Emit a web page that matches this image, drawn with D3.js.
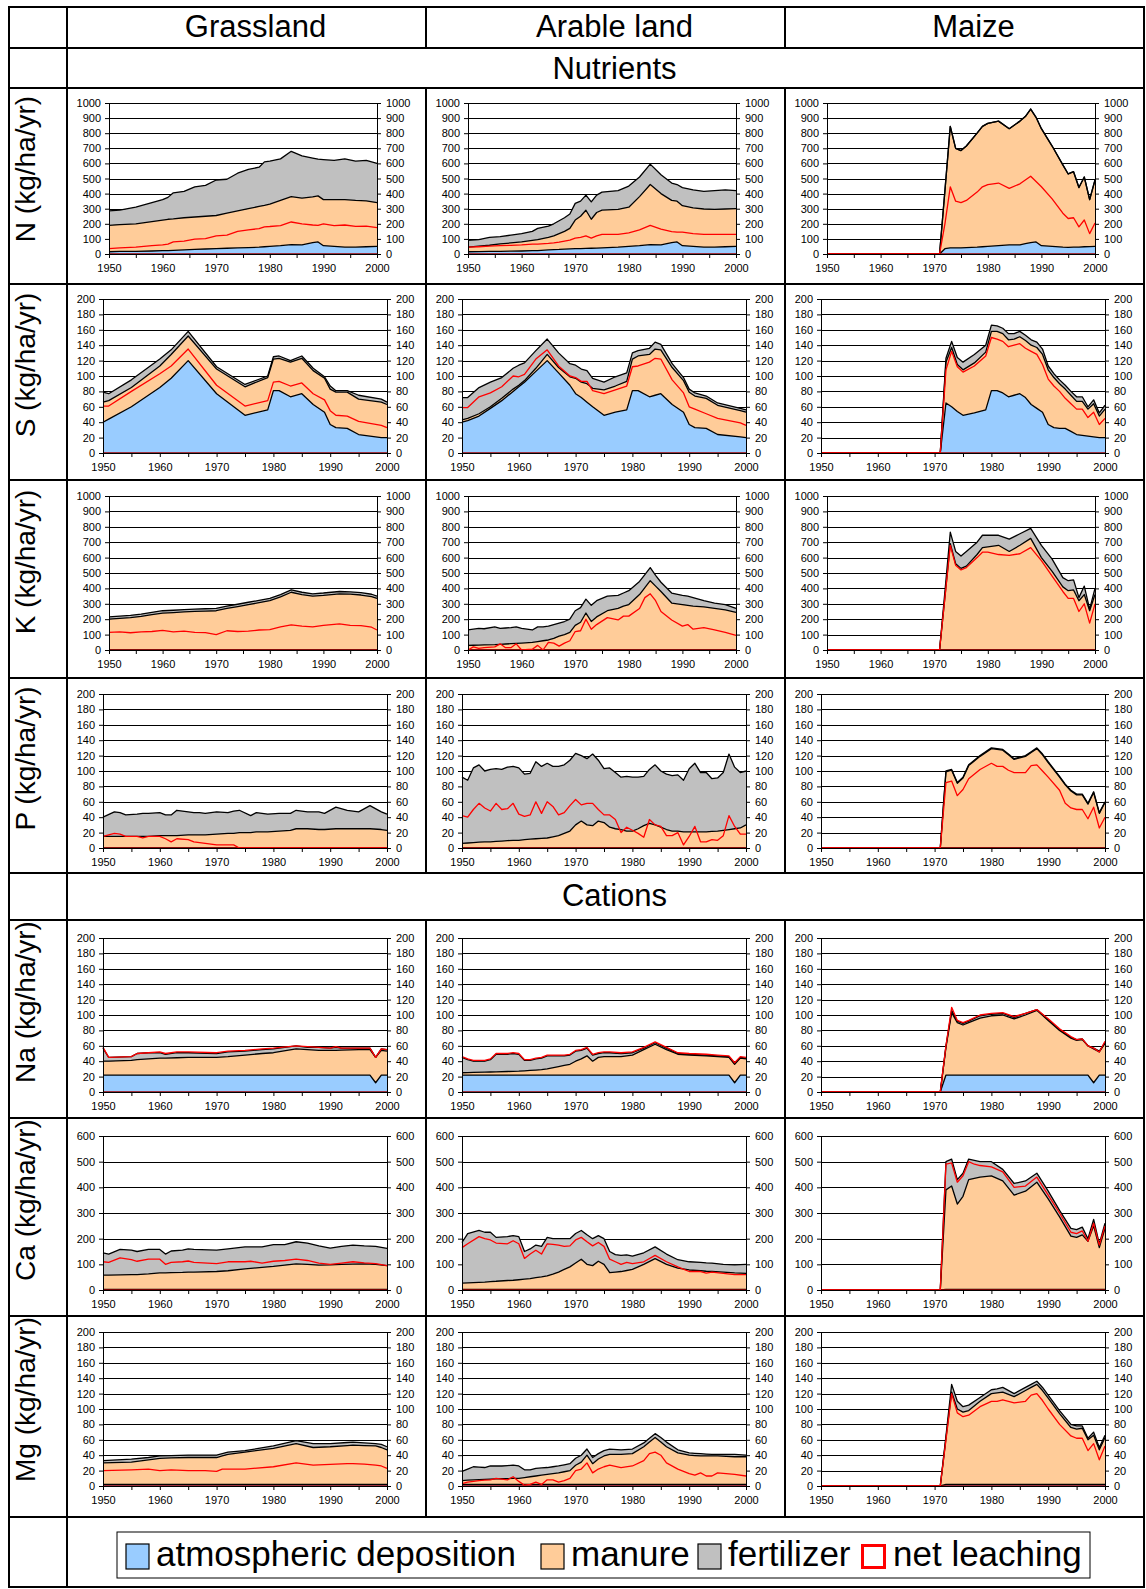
<!DOCTYPE html>
<html>
<head>
<meta charset="utf-8">
<script src="https://cdn.jsdelivr.net/npm/d3@7"></script>
<style>
  body { margin: 0; background: #fff; }
  text { font-family: "Liberation Sans", Arial, sans-serif; }
</style>
</head>
<body>
<div id="container"></div>
<script>
let w = 1146;
let h = 1589;

// DATA - one table per panel, rows are [year, atm top, manure top, fertilizer top, net leaching]
// (the three tops are stacked values)
const nGrass = [
  [1950,15,190,285,35],[1952,17,195,290,40],[1955,18,200,310,45],[1958,20,215,340,55],
  [1960,22,225,360,60],[1961,23,230,375,65],[1962,24,232,405,80],[1964,27,240,415,85],
  [1966,30,245,445,98],[1968,33,250,455,102],[1970,36,255,490,120],[1972,38,270,495,125],
  [1974,40,285,535,150],[1976,42,300,560,160],[1978,45,315,575,168],[1979,48,322,610,180],
  [1980,50,330,615,182],[1982,55,355,630,188],[1984,62,380,680,212],[1986,60,370,650,200],
  [1988,75,378,635,192],[1989,80,385,628,190],[1990,55,360,625,200],[1992,50,360,620,188],
  [1994,45,360,630,192],[1996,45,355,615,183],[1998,48,352,620,185],[2000,50,340,600,175]
];
const nArable = [
  [1950,15,45,90,45],[1952,16,52,95,48],[1954,17,58,110,52],[1956,18,67,115,55],
  [1958,19,73,125,57],[1960,20,80,135,60],[1962,22,90,150,65],[1963,23,95,170,66],
  [1965,27,110,185,70],[1966,29,120,200,73],[1967,30,135,220,78],[1968,32,150,240,85],
  [1969,34,170,265,92],[1970,35,225,335,105],[1971,36,250,350,110],[1972,37,290,390,120],
  [1973,38,230,345,105],[1974,39,275,390,120],[1975,40,290,410,130],[1978,45,295,420,130],
  [1980,50,310,450,140],[1982,55,380,510,160],[1984,62,460,595,190],[1986,60,400,525,165],
  [1988,75,355,470,148],[1989,80,350,460,145],[1990,55,320,440,145],[1992,50,305,425,135],
  [1994,45,298,415,130],[1996,45,295,420,130],[1998,48,298,425,130],[2000,50,300,420,130]
];
const nMaize = [
  [1950,0,0,0,0],[1971,0,0,0,0],[1972,35,420,420,200],[1973,40,845,845,445],
  [1974,40,700,700,350],[1975,40,685,685,340],[1976,42,715,715,355],[1978,45,800,800,410],
  [1979,48,845,845,445],[1980,50,865,865,460],[1982,55,880,880,470],[1984,60,830,830,435],
  [1986,60,880,880,465],[1987,68,910,910,490],[1988,75,960,960,515],[1989,80,905,905,480],
  [1990,55,830,830,445],[1992,50,715,715,365],[1994,45,590,590,270],[1995,44,530,530,235],
  [1996,45,545,545,240],[1997,46,440,440,180],[1998,48,510,510,225],[1999,49,360,360,135],
  [2000,50,490,490,205]
];
const sGrass = [
  [1950,40,66,79,61],[1951,44,68,77,61],[1955,60,85,95,80],[1960,85,113,122,103],
  [1962,97,128,134,113],[1965,120,152,158,135],[1970,77,109,112,88],[1975,49,86,89,61],
  [1979,56,98,100,68],[1980,81,122,125,92],[1981,81,123,126,93],[1983,73,118,120,87],
  [1985,77,123,126,91],[1987,63,107,110,77],[1989,53,97,99,69],[1990,37,83,87,55],
  [1991,33,79,81,49],[1993,32,79,81,48],[1995,24,70,75,41],[1999,20,66,70,36],
  [2000,20,63,66,33]
];
const sArable = [
  [1950,40,43,72,59],[1951,42,45,72,59],[1953,48,51,85,73],[1955,58,60,92,78],
  [1957,68,71,98,86],[1959,80,83,110,100],[1960,86,88,114,99],[1961,92,94,117,102],
  [1963,106,110,133,122],[1965,120,128,148,134],[1967,104,111,130,113],[1969,88,99,116,100],
  [1970,77,97,114,98],[1971,72,92,109,93],[1972,66,90,107,93],[1973,60,84,97,81],
  [1975,49,82,92,77],[1977,53,87,99,82],[1979,56,93,104,87],[1980,81,122,130,112],
  [1981,81,126,133,113],[1983,73,128,136,118],[1984,75,135,144,123],[1985,77,134,141,122],
  [1987,63,111,116,95],[1989,53,94,98,78],[1990,37,79,83,60],[1991,33,74,78,57],
  [1993,32,71,74,51],[1995,24,62,65,45],[1999,21,55,58,39],[2000,20,53,56,36]
];
const sMaize = [
  [1950,0,0,0,0],[1971,0,0,0,0],[1972,65,118,123,108],[1973,60,137,145,132],
  [1974,54,115,124,112],[1975,49,108,118,105],[1977,52,117,128,113],[1979,56,131,140,126],
  [1980,81,158,166,150],[1981,81,158,165,148],[1982,78,155,162,145],[1983,73,147,155,138],
  [1984,75,148,155,140],[1985,77,151,158,142],[1986,72,146,153,136],[1987,63,140,147,132],
  [1988,58,137,144,128],[1989,53,128,135,115],[1990,37,108,113,96],[1991,33,98,103,87],
  [1992,32,90,95,80],[1993,32,83,88,71],[1994,28,75,80,64],[1995,24,67,73,57],
  [1996,23,67,73,57],[1997,22,57,60,46],[1998,21,64,69,53],[1999,20,48,52,37],
  [2000,20,57,62,45]
];
const kGrass = [
  [1950,0,200,215,115],[1952,0,205,220,118],[1954,0,210,225,112],[1956,0,218,233,118],
  [1958,0,230,245,120],[1960,0,240,255,128],[1962,0,243,258,118],[1964,0,247,262,123],
  [1966,0,251,266,115],[1968,0,253,268,113],[1970,0,255,270,100],[1972,0,270,285,125],
  [1974,0,282,297,120],[1976,0,295,310,122],[1978,0,307,322,130],[1980,0,320,335,132],
  [1982,0,345,360,150],[1984,0,375,390,163],[1986,0,360,375,155],[1988,0,350,365,150],
  [1990,0,355,370,160],[1993,0,365,380,170],[1995,0,363,378,160],[1997,0,357,372,158],
  [1999,0,347,362,148],[2000,0,335,350,130]
];
const kArable = [
  [1950,0,30,130,0],[1951,0,31,135,20],[1952,0,32,140,10],[1953,0,33,138,15],
  [1955,0,35,150,20],[1956,0,37,140,40],[1957,0,39,143,15],[1958,0,41,145,15],
  [1959,0,43,150,40],[1960,0,45,140,0],[1962,0,50,130,5],[1963,0,55,150,30],
  [1964,0,60,150,0],[1965,0,65,155,50],[1966,0,75,165,45],[1967,0,90,175,25],
  [1968,0,100,185,45],[1969,0,115,200,60],[1970,0,160,255,120],[1971,0,180,275,125],
  [1972,0,240,330,200],[1973,0,185,290,135],[1974,0,215,320,165],[1976,0,255,350,210],
  [1978,0,270,355,195],[1979,0,285,370,220],[1980,0,295,385,220],[1982,0,360,445,270],
  [1983,0,405,490,340],[1984,0,450,535,365],[1985,0,415,485,320],[1986,0,380,440,250],
  [1988,0,305,370,195],[1990,0,295,355,155],[1991,0,290,350,165],[1992,0,285,340,135],
  [1994,0,280,320,145],[1996,0,270,305,130],[1998,0,260,295,115],[2000,0,245,270,95]
];
const kMaize = [
  [1950,0,0,0,0],[1971,0,0,0,0],[1972,0,345,380,340],[1973,0,690,765,680],
  [1974,0,560,640,550],[1975,0,530,610,520],[1976,0,545,640,535],[1978,0,620,700,600],
  [1979,0,665,745,635],[1980,0,670,745,635],[1982,0,680,745,620],[1984,0,640,720,615],
  [1986,0,680,755,625],[1988,0,725,790,665],[1990,0,600,680,580],[1992,0,510,590,480],
  [1994,0,410,470,380],[1995,0,385,450,335],[1996,0,390,455,335],[1997,0,320,340,250],
  [1998,0,360,415,300],[1999,0,255,265,175],[2000,0,360,400,300]
];
const pGrass = [
  [1950,0,15,40,15],[1952,0,15,47,19],[1953,0,15,46,18],[1954,0,15,43,15],
  [1956,0,15,44,15],[1957,0,15,45,13],[1958,0,15,45,15],[1960,0,16,46,15],
  [1961,0,16,43,12],[1962,0,16,43,8],[1963,0,16,49,12],[1965,0,17,47,11],
  [1966,0,17,46,8],[1967,0,17,46,7],[1968,0,17,45,6],[1970,0,18,47,4],
  [1972,0,19,46,4],[1973,0,19,48,4],[1974,0,20,49,0],[1976,0,20,42,0],
  [1977,0,21,46,0],[1979,0,21,44,0],[1981,0,22,45,0],[1983,0,23,45,0],
  [1984,0,25,49,0],[1986,0,25,47,0],[1988,0,24,47,0],[1989,0,24,45,0],
  [1991,0,25,53,0],[1993,0,25,49,0],[1995,0,25,47,0],[1997,0,25,55,0],
  [1999,0,24,47,0],[2000,0,23,44,0]
];
const pArable = [
  [1950,0,6,92,42],[1951,0,6.5,88,40],[1952,0,7,104,50],[1953,0,7.5,108,58],
  [1954,0,8,100,52],[1955,0,8,102,48],[1956,0,8.5,103,58],[1957,0,9,102,50],
  [1958,0,9.5,105,51],[1959,0,10,106,58],[1960,0,10,104,44],[1961,0,11,96,41],
  [1962,0,11.5,97,43],[1963,0,12,112,60],[1964,0,12.5,106,45],[1965,0,13,110,60],
  [1966,0,14.5,106,54],[1967,0,16,106,43],[1968,0,19,108,46],[1969,0,22,114,55],
  [1970,0,30,123,63],[1971,0,35,120,56],[1972,0,30,116,58],[1973,0,29,122,58],
  [1974,0,35,114,50],[1975,0,33,103,43],[1976,0,27,104,43],[1977,0,25,98,37],
  [1978,0,24,92,20],[1979,0,22,93,27],[1980,0,22,92,23],[1981,0,25,92,19],
  [1982,0,29,93,14],[1983,0,32,102,37],[1984,0,30,108,30],[1985,0,27,100,28],
  [1986,0,24,96,16],[1987,0,22,94,16],[1988,0,22,95,20],[1989,0,21,88,4],
  [1990,0,21,103,15],[1991,0,21,110,28],[1992,0,21,98,8],[1993,0,21,98,8],
  [1994,0,21.5,90,11],[1995,0,22,91,10],[1996,0,23,98,16],[1997,0,24,122,42],
  [1998,0,25,105,28],[1999,0,26,98,18],[2000,0,30,100,18]
];
const pMaize = [
  [1950,0,0,0,0],[1971,0,0,0,0],[1972,0,99,100,85],[1973,0,101,102,87],
  [1974,0,84,85,68],[1975,0,91,92,76],[1976,0,107,108,90],[1978,0,119,120,102],
  [1980,0,129,130,110],[1981,0,128,129,106],[1982,0,127,128,106],[1983,0,121,122,101],
  [1984,0,115,116,98],[1986,0,119,120,98],[1987,0,124,125,107],[1988,0,129,130,108],
  [1989,0,121,122,100],[1990,0,111,112,92],[1992,0,92,93,75],[1993,0,82,83,58],
  [1994,0,74,75,52],[1995,0,69,70,50],[1996,0,69,70,50],[1997,0,57,58,38],
  [1998,0,72,73,53],[1999,0,45,46,26],[2000,0,59,60,40]
];
const naGrass = [
  [1950,22,40,57,58],[1951,22,40,45,45],[1955,22,41,46,46],[1956,22,42,50,50],
  [1958,22,43,51,51],[1960,22,44,51,52],[1961,22,44,49,50],[1963,22,44.5,51,52],
  [1965,22,45,51,52],[1970,22,45,50,51],[1972,22,46,52,53],[1975,22,48,53,54],
  [1978,22,50,55,56],[1980,22,51,56,57],[1984,22,56,60,60],[1986,22,55,58,59],
  [1988,22,54,58,58],[1990,22,54,57,57],[1991,22,54,58,59],[1992,22,54.5,57,57],
  [1995,22,55,57,57],[1997,22,55,57,57],[1998,12,45,45,45],[1999,22,54,56,56],
  [2000,22,53,55,55]
];
const naArable = [
  [1950,22,25,45,46],[1951,22,25.2,42,43],[1952,22,25.4,40,41],[1954,22,25.8,40,41],
  [1955,22,26,42,43],[1956,22,26.2,49,50],[1958,22,26.6,49,50],[1959,22,26.8,50,51],
  [1960,22,27,49,50],[1961,22,27.5,41,42],[1962,22,28,41,42],[1963,22,28.5,43,44],
  [1964,22,29,44,45],[1965,22,30,47,48],[1967,22,33,47,48],[1968,22,34.5,47,48],
  [1969,22,36,48,49],[1970,22,40,53,54],[1971,22,43,54,55],[1972,22,47,57,58],
  [1973,22,40,48,49],[1974,22,45,50,51],[1975,22,46,51,52],[1976,22,46,51,52],
  [1978,22,46,50,51],[1980,22,48,51,52],[1982,22,55,57,58],[1984,22,62,64,65],
  [1986,22,55,57,58],[1988,22,49,50,51],[1990,22,48,49,50],[1993,22,47,48,49],
  [1995,22,46,47,48],[1997,22,45,46,47],[1998,12,36,37,38],[1999,22,44,45,46],
  [2000,22,43,44,45]
];
const naMaize = [
  [1950,0,0,0,0],[1971,0,0,0,0],[1972,22,58,60,60],[1973,22,103,106,110],
  [1974,22,90,92,93],[1975,22,87,89,90],[1976,22,90,92,93],[1978,22,96,99,100],
  [1980,22,99,101,102],[1982,22,100,102,103],[1984,22,95,97,98],[1986,22,100,102,102],
  [1988,22,106,107,107],[1990,22,93,94,95],[1992,22,80,81,82],[1994,22,70,71,72],
  [1995,22,67,68,68],[1996,22,68,69,69],[1997,22,60,60,60],[1998,12,56,57,57],
  [1999,22,52,53,52],[2000,22,63,64,66]
];
const caGrass = [
  [1950,2,58,145,110],[1951,2,58,140,108],[1953,2,59,158,125],[1955,2,60,155,118],
  [1956,2,60,150,112],[1958,2,63,158,120],[1960,2,67,158,120],[1961,2,67,140,100],
  [1962,2,68,152,108],[1964,2,69,155,110],[1965,2,70,160,113],[1966,2,70,158,108],
  [1970,2,72,155,103],[1972,2,75,160,110],[1975,2,82,168,110],[1976,2,84,168,112],
  [1978,2,88,168,105],[1980,2,92,177,112],[1982,2,97,177,115],[1984,2,102,188,120],
  [1986,2,100,183,115],[1988,2,97,172,105],[1990,2,98,163,100],[1992,2,100,170,105],
  [1994,2,101,175,110],[1996,2,102,172,106],[1998,2,100,170,103],[2000,2,95,162,95]
];
const caArable = [
  [1950,2,27,185,165],[1951,2,28,220,180],[1953,2,30,232,208],[1954,2,31,225,200],
  [1955,2,33,225,195],[1956,2,34,205,183],[1958,2,37,208,180],[1959,2,38,212,192],
  [1960,2,40,208,180],[1961,2,42,150,123],[1962,2,44,160,140],[1963,2,48,175,155],
  [1964,2,51,170,140],[1965,2,55,205,180],[1966,2,62,200,178],[1967,2,70,200,175],
  [1968,2,80,200,170],[1969,2,90,200,172],[1970,2,105,220,195],[1971,2,120,232,205],
  [1972,2,100,215,188],[1973,2,95,200,172],[1974,2,112,212,185],[1975,2,100,200,170],
  [1976,2,68,150,120],[1977,2,70,138,110],[1978,2,72,135,100],[1979,2,76,137,108],
  [1980,2,80,132,103],[1982,2,100,145,110],[1984,2,122,168,135],[1986,2,100,140,110],
  [1988,2,85,118,90],[1990,2,78,110,72],[1992,2,75,108,72],[1993,2,73,106,66],
  [1994,2,72,105,70],[1996,2,70,100,65],[1998,2,67,98,60],[2000,2,65,100,60]
];
const caMaize = [
  [1950,0,0,0,0],[1971,0,0,0,0],[1972,2,390,500,490],[1973,2,405,510,495],
  [1974,2,335,430,420],[1975,2,365,455,445],[1976,2,430,510,500],[1977,2,435,505,490],
  [1978,2,440,500,485],[1980,2,445,500,480],[1982,2,425,470,460],[1984,2,370,415,400],
  [1986,2,385,425,405],[1988,2,420,455,440],[1990,2,355,385,370],[1992,2,285,310,300],
  [1994,2,210,240,225],[1995,2,205,235,220],[1996,2,215,245,230],[1997,2,190,200,190],
  [1998,2,250,275,260],[1999,2,165,180,175],[2000,2,240,260,250]
];
const mgGrass = [
  [1950,2,30,33,20],[1955,2,31,35,21],[1958,2,34,37,22],[1960,2,36,39,20],
  [1962,2,36.5,39.5,21],[1965,2,37,40,20],[1968,2,37,40,20],[1970,2,37,40,19],
  [1971,2,39,42,22],[1972,2,41,44,22],[1975,2,44,46,22],[1980,2,49,52,25],
  [1984,2,55,59,30],[1987,2,50,55,27],[1990,2,51,55,28],[1993,2,52.5,56.5,29],
  [1994,2,53,57,29],[1996,2,52.5,56,28.5],[1998,2,52,55,27],[1999,2,50,54,26],
  [2000,2,47,51,23]
];
const mgArable = [
  [1950,2,7,19,3],[1951,2,7.5,22,5],[1952,2,8,25,6],[1953,2,8.3,24.5,7],
  [1954,2,8.6,24,7.5],[1955,2,9,26,8],[1956,2,9.2,26,10],[1957,2,9.4,26,9],
  [1958,2,9.6,26.5,8],[1959,2,9.8,27,12],[1960,2,10,26,6],[1961,2,11,21,1],
  [1962,2,12,21,2],[1963,2,13,23,5],[1964,2,14,23.5,2],[1965,2,15,24,8],
  [1966,2,16,25,8],[1967,2,17,26,5],[1968,2,18.5,27.5,7],[1969,2,20,29,10],
  [1970,2,27,36,20],[1971,2,31,40,22],[1972,2,40,48,30],[1973,2,29,37,17],
  [1974,2,35,42,22],[1975,2,39,46,25],[1976,2,41,48,27],[1978,2,41,47,24],
  [1980,2,42,48,26],[1982,2,51,56,33],[1983,2,57,62,42],[1984,2,63,68,44],
  [1985,2,57,63,40],[1986,2,51,57,30],[1988,2,43,47,22],[1990,2,40,43,16],
  [1991,2,39.5,42.5,14],[1992,2,39,42,17],[1993,2,39,41.5,13],[1994,2,39,41,13],
  [1995,2,39,41,17],[1998,2,38,41,15],[2000,2,38,40,13]
];
const mgMaize = [
  [1950,0,0,0,0],[1971,0,0,0,0],[1972,2,62,65,60],[1973,2,122,132,120],
  [1974,2,100,110,95],[1975,2,96,103,90],[1976,2,98,105,92],[1978,2,110,115,103],
  [1980,2,120,125,110],[1981,2,121,126,110],[1982,2,122,128,112],[1984,2,116,120,108],
  [1986,2,124,128,110],[1987,2,128,132,118],[1988,2,132,136,120],[1989,2,124,128,111],
  [1990,2,114,118,100],[1992,2,94,98,80],[1994,2,76,80,65],[1995,2,74,78,62],
  [1996,2,75,78,62],[1997,2,60,62,46],[1998,2,66,70,55],[1999,2,47,50,34],
  [2000,2,63,66,52]
];

const columnNames = ["Grassland", "Arable land", "Maize"];
const groupNames = ["Nutrients", "Cations"];
const rowLabels = ["N (kg/ha/yr)", "S (kg/ha/yr)", "K (kg/ha/yr)", "P (kg/ha/yr)",
                   "Na (kg/ha/yr)", "Ca (kg/ha/yr)", "Mg (kg/ha/yr)"];
const rowMax = [1000, 200, 1000, 200, 200, 600, 200];
const rowStep = [100, 20, 100, 20, 20, 100, 20];
const panels = [
  [nGrass, nArable, nMaize],
  [sGrass, sArable, sMaize],
  [kGrass, kArable, kMaize],
  [pGrass, pArable, pMaize],
  [naGrass, naArable, naMaize],
  [caGrass, caArable, caMaize],
  [mgGrass, mgArable, mgMaize]
];
const legendNames = ["atmospheric deposition", "manure", "fertilizer", "net leaching"];

let colors = { atm: "#99ccff", man: "#ffcc99", fer: "#c0c0c0", lea: "#ff0000" };
let fontFam = "'Liberation Sans', Arial, sans-serif";

// LAYOUT
let colX = [9, 67, 426, 785, 1144];
let lineY = [7, 48, 88, 284, 480, 678, 873, 920, 1118, 1316, 1517, 1587];
let rowTop = [88, 284, 480, 678, 920, 1118, 1316];
let rowBot = [284, 480, 678, 873, 1118, 1316, 1517];
let plotTop = [103, 299, 496, 694, 938, 1136, 1332];
let plotH = [151, 154, 154, 154, 154, 154, 154];

let viz = d3.select("#container").append("svg")
    .attr("width", w)
    .attr("height", h)
    .style("background-color", "white");

// PANELS
function drawPanel(g, data, max, step, x0, x1, y0, y1) {
  let x = d3.scaleLinear().domain([1950, 2000]).range([x0, x1]);
  let y = d3.scaleLinear().domain([0, max]).range([y1, y0]);
  let ticks = d3.range(0, max + step / 2, step);

  g.selectAll(".grid").data(ticks.slice(1)).enter()
    .append("line")
      .attr("class", "grid")
      .attr("x1", x0).attr("x2", x1)
      .attr("y1", d => Math.round(y(d)) + 0.5).attr("y2", d => Math.round(y(d)) + 0.5)
      .attr("stroke", "#000")
      .attr("stroke-width", 1);

  let bands = [[null, 1, colors.atm], [1, 2, colors.man], [2, 3, colors.fer]];
  bands.forEach(b => {
    let area = d3.area()
      .x(d => x(d[0]))
      .y0(d => b[0] === null ? y(0) : y(d[b[0]]))
      .y1(d => y(d[b[1]]));
    g.append("path").datum(data).attr("d", area).attr("fill", b[2]);
  });

  [1, 2, 3].forEach(k => {
    let line = d3.line().x(d => x(d[0])).y(d => y(d[k]));
    g.append("path").datum(data)
      .attr("d", line)
      .attr("fill", "none")
      .attr("stroke", "#000")
      .attr("stroke-width", 1.3)
      .attr("stroke-linejoin", "round");
  });

  // dark red base line
  g.append("line")
    .attr("x1", x0).attr("x2", x1).attr("y1", y(0)).attr("y2", y(0))
    .attr("stroke", "#a00000").attr("stroke-width", 1.6);

  let leach = d3.line().x(d => x(d[0])).y(d => y(d[4]));
  g.append("path").datum(data)
    .attr("d", leach)
    .attr("fill", "none")
    .attr("stroke", colors.lea)
    .attr("stroke-width", 1.3)
    .attr("stroke-linejoin", "round");

  let fmt = d3.format("d");
  let left = g.append("g")
    .attr("transform", `translate(${x0},0)`)
    .call(d3.axisLeft(y).tickValues(ticks).tickSize(4).tickSizeOuter(0).tickPadding(4).tickFormat(fmt));
  let right = g.append("g")
    .attr("transform", `translate(${x1},0)`)
    .call(d3.axisRight(y).tickValues(ticks).tickSize(4).tickSizeOuter(0).tickPadding(5).tickFormat(fmt));
  let bottom = g.append("g")
    .attr("transform", `translate(0,${y1})`)
    .call(d3.axisBottom(x).tickValues(d3.range(1950, 2001, 5)).tickSize(4).tickSizeOuter(0).tickPadding(6)
      .tickFormat(d => d % 10 === 0 ? d : ""));

  [left, right, bottom].forEach(a => {
    a.attr("font-family", fontFam).attr("font-size", 11);
    a.selectAll("path, line").attr("stroke", "#000");
    a.selectAll("text").attr("fill", "#000");
  });
}

for (let r = 0; r < panels.length; r++) {
  let wide = rowMax[r] >= 1000;
  for (let c = 0; c < 3; c++) {
    let x0 = colX[c + 1] + (wide ? 42 : 36);
    let x1 = colX[c + 2] - (wide ? 49 : 39);
    let y0 = plotTop[r];
    let y1 = plotTop[r] + plotH[r];
    drawPanel(viz.append("g"), panels[r][c], rowMax[r], rowStep[r], x0, x1, y0, y1);
  }
  let mid = (rowTop[r] + rowBot[r]) / 2 - 17;
  viz.append("text")
    .attr("transform", `translate(35,${mid}) rotate(-90)`)
    .attr("text-anchor", "middle")
    .attr("font-size", 28)
    .text(rowLabels[r]);
}

// HEADERS
columnNames.forEach((name, i) => {
  viz.append("text")
    .attr("x", (colX[i + 1] + colX[i + 2]) / 2 + 9)
    .attr("y", 37)
    .attr("text-anchor", "middle")
    .attr("font-size", 31)
    .text(name);
});
[79, 906].forEach((yy, i) => {
  viz.append("text")
    .attr("x", (colX[1] + colX[4]) / 2 + 9)
    .attr("y", yy)
    .attr("text-anchor", "middle")
    .attr("font-size", 31)
    .text(groupNames[i]);
});

// TABLE LINES
let tbl = viz.append("g").attr("stroke", "#000").attr("stroke-width", 2).attr("stroke-linecap", "square");
lineY.forEach(yy => {
  tbl.append("line").attr("x1", colX[0]).attr("x2", colX[4]).attr("y1", yy).attr("y2", yy);
});
[colX[0], colX[1], colX[4]].forEach(xx => {
  tbl.append("line").attr("x1", xx).attr("x2", xx).attr("y1", lineY[0]).attr("y2", lineY[11]);
});
[[7, 48], [88, 873], [920, 1517]].forEach(seg => {
  [colX[2], colX[3]].forEach(xx => {
    tbl.append("line").attr("x1", xx).attr("x2", xx).attr("y1", seg[0]).attr("y2", seg[1]);
  });
});

// LEGEND
viz.append("rect")
  .attr("x", 117).attr("y", 1532).attr("width", 973).attr("height", 46)
  .attr("fill", "white").attr("stroke", "#000").attr("stroke-width", 1);
let legendFill = [colors.atm, colors.man, colors.fer, "white"];
let legendX = [126, 541, 698, 861];
legendNames.forEach((name, i) => {
  let lg = viz.append("g").attr("transform", `translate(${legendX[i]},1544)`);
  if (i < 3) {
    lg.append("rect").attr("width", 23).attr("height", 25)
      .attr("fill", legendFill[i]).attr("stroke", "#000").attr("stroke-width", 1.2);
  } else {
    lg.append("rect").attr("x", 1.5).attr("y", 1.5).attr("width", 22).attr("height", 22)
      .attr("fill", "white").attr("stroke", colors.lea).attr("stroke-width", 3);
  }
  lg.append("text")
    .attr("x", i === 3 ? 32 : 30)
    .attr("y", 22)
    .attr("font-size", 35)
    .text(name);
});
</script>
</body>
</html>
